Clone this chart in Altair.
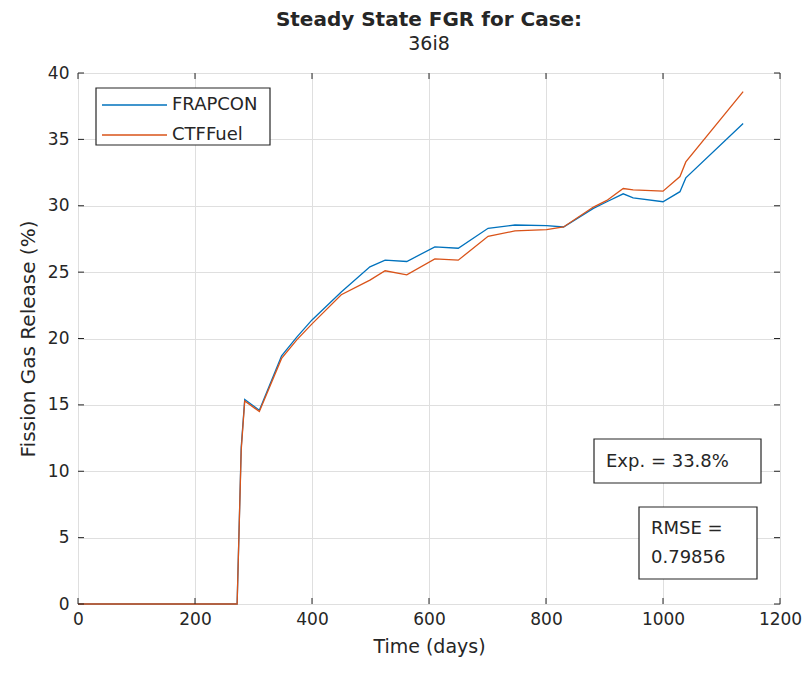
import altair as alt
import pandas as pd

# ---- data ----
days = [0, 272, 279, 285, 310, 348, 374, 400, 450, 499, 525, 562, 610, 650,
        701, 747, 801, 830, 881, 904, 932, 949, 1000, 1029, 1039, 1137]
frapcon = [0, 0, 11.8, 15.4, 14.6, 18.7, 20.1, 21.4, 23.5, 25.4, 25.9, 25.8, 26.9, 26.8,
           28.3, 28.55, 28.5, 28.4, 29.8, 30.3, 30.9, 30.6, 30.3, 31.06, 32.1, 36.2]
ctffuel = [0, 0, 11.6, 15.3, 14.5, 18.5, 19.9, 21.1, 23.3, 24.4, 25.1, 24.8, 26.0, 25.9,
           27.7, 28.1, 28.2, 28.4, 29.9, 30.4, 31.3, 31.2, 31.1, 32.2, 33.3, 38.6]
series_names = ["FRAPCON", "CTFFuel"]
series_colors = ["#0072BD", "#D95319"]
x_ticks = [0, 200, 400, 600, 800, 1000, 1200]
y_ticks = [0, 5, 10, 15, 20, 25, 30, 35, 40]
exp_text = "Exp. = 33.8%"
rmse_lines = ["RMSE =", "0.79856"]

FONT = "DejaVu Sans"
TXT = "#262626"
W, H = 702, 531

n = len(days)
df = pd.DataFrame({
    "Time": days + days,
    "FGR": frapcon + ctffuel,
    "Code": [series_names[0]] * n + [series_names[1]] * n,
})

x_scale = alt.Scale(domain=[0, 1200], nice=False, zero=False)
y_scale = alt.Scale(domain=[0, 40], nice=False, zero=False)

lines = alt.Chart(df).mark_line(strokeWidth=1.3).encode(
    x=alt.X("Time:Q", scale=x_scale,
            axis=alt.Axis(values=x_ticks, title="Time (days)", format="d",
                          ticks=False, domain=False, labelPadding=7, titlePadding=10,
                          labelFontSize=17, titleFontSize=19, labelFont=FONT, titleFont=FONT,
                          labelColor=TXT, titleColor=TXT, titleFontWeight="normal",
                          grid=True, gridColor="#dfdfdf", labelFlush=False)),
    y=alt.Y("FGR:Q", scale=y_scale,
            axis=alt.Axis(values=y_ticks, title="Fission Gas Release (%)",
                          ticks=False, domain=False, labelPadding=9, titlePadding=9,
                          labelFontSize=17, titleFontSize=20, labelFont=FONT, titleFont=FONT,
                          labelColor=TXT, titleColor=TXT, titleFontWeight="normal",
                          grid=True, gridColor="#dfdfdf", labelFlush=False)),
    color=alt.Color("Code:N", scale=alt.Scale(domain=series_names, range=series_colors),
                    legend=None),
    order=alt.Order("Time:Q"),
)

tick_df = pd.DataFrame({"xt": x_ticks})
ytick_df = pd.DataFrame({"yt": y_ticks})
TL = 6
xt_bottom = alt.Chart(tick_df).mark_rule(color=TXT).encode(
    x=alt.X("xt:Q", scale=x_scale), y=alt.value(H), y2=alt.value(H - TL))
xt_top = alt.Chart(tick_df).mark_rule(color=TXT).encode(
    x=alt.X("xt:Q", scale=x_scale), y=alt.value(0), y2=alt.value(TL))
yt_left = alt.Chart(ytick_df).mark_rule(color=TXT).encode(
    y=alt.Y("yt:Q", scale=y_scale), x=alt.value(0), x2=alt.value(TL))
yt_right = alt.Chart(ytick_df).mark_rule(color=TXT).encode(
    y=alt.Y("yt:Q", scale=y_scale), x=alt.value(W), x2=alt.value(W - TL))

one = pd.DataFrame({"a": [0]})


def box(x0, x1, y0, y1):
    return alt.Chart(one).mark_rect(fill="white", stroke=TXT, strokeWidth=1.2).encode(
        x=alt.value(x0), x2=alt.value(x1), y=alt.value(y0), y2=alt.value(y1))


def label(x, y, txt, size):
    return alt.Chart(one).mark_text(align="left", baseline="middle", font=FONT,
                                    fontSize=size, color=TXT).encode(
        x=alt.value(x), y=alt.value(y), text=alt.value(txt))


# manual legend (MATLAB-style box, top-left)
legend_layers = [box(18, 192, 15, 72)]
row_y = [32, 62]
for name, col, ry in zip(series_names, series_colors, row_y):
    legend_layers.append(
        alt.Chart(one).mark_rule(color=col, strokeWidth=1.5).encode(
            x=alt.value(24), x2=alt.value(89), y=alt.value(ry)))
    legend_layers.append(label(94, ry, name, 18))

annot_layers = [
    box(516, 683, 366, 410), label(528, 389, exp_text, 18),
    box(561, 679, 434, 506), label(573, 456, rmse_lines[0], 18),
    label(573, 485, rmse_lines[1], 18),
]

chart = alt.layer(
    lines, xt_bottom, xt_top, yt_left, yt_right, *legend_layers, *annot_layers,
).properties(
    width=W, height=H,
    title=alt.TitleParams(text="Steady State FGR for Case:", subtitle="36i8",
                          anchor="middle", font=FONT, fontSize=20, fontWeight="bold",
                          color=TXT, subtitleFont=FONT, subtitleFontSize=19,
                          subtitleFontWeight="normal", subtitleColor=TXT,
                          subtitlePadding=5, offset=10),
    autosize=alt.AutoSizeParams(type="none"),
    padding={"left": 78, "top": 73, "right": 28, "bottom": 73},
).configure_view(
    stroke=TXT, strokeWidth=1.2
).configure(background="white")

chart.save("out.html", embed_options={"renderer": "svg", "actions": False})
